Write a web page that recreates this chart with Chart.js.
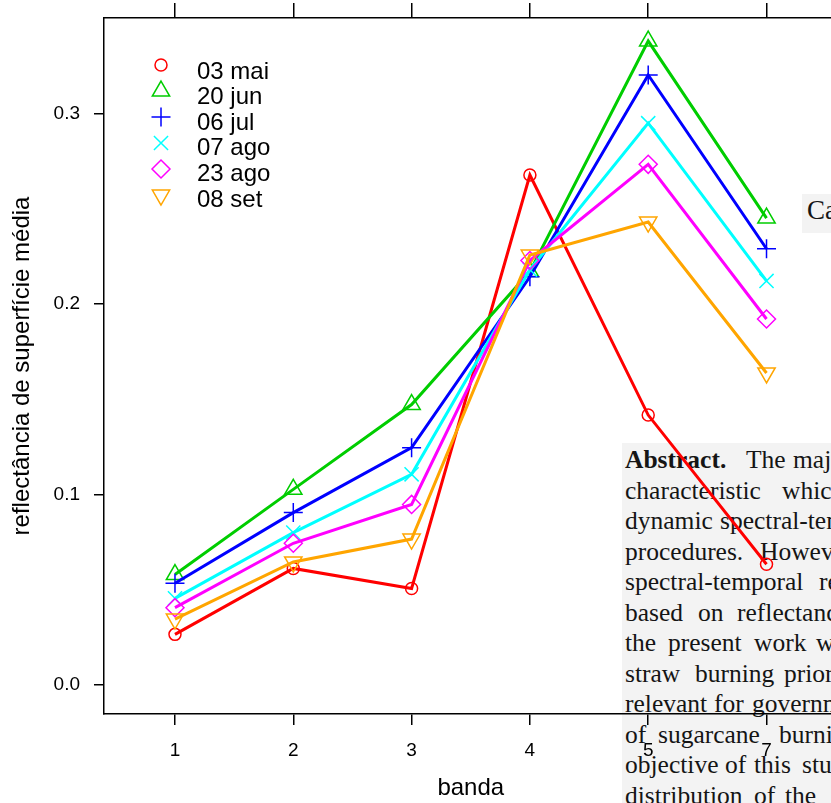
<!DOCTYPE html>
<html>
<head>
<meta charset="utf-8">
<title>reflectância por banda</title>
<script src="https://cdn.jsdelivr.net/npm/chart.js@4.4.1/dist/chart.umd.min.js"></script>
<style>
body{margin:0;background:#fff;overflow:hidden;}
#page{position:relative;width:831px;height:803px;overflow:hidden;}
.snip{position:absolute;background:#f3f3f3;font-family:"Liberation Serif","Times New Roman",serif;color:#151515;}
.snip span{position:absolute;white-space:nowrap;line-height:25px;font-size:25.5px;}
#chart{position:absolute;left:0;top:0;}
</style>
</head>
<body>
<div id="page">
<div class="snip" id="snipCa" style="left:802px;top:194px;width:60px;height:39px;"></div>
<div class="snip" id="snipAbs" style="left:622px;top:443px;width:260px;height:400px;"></div>
<canvas id="chart" width="849" height="803"></canvas>
</div>
<script>

// bandas e datas
const bandLabels = ["1","2","3","4","5","7"];
const dates = ["03 mai","20 jun","06 jul","07 ago","23 ago","08 set"];

// reflectância média por banda
const mai03 = [0.0266,0.0612,0.0507,0.2677,0.1417,0.0634];
const jun20 = [0.0580,0.1027,0.1472,0.2170,0.3380,0.2451];
const jul06 = [0.0534,0.0905,0.1246,0.2143,0.3202,0.2290];
const ago07 = [0.0455,0.0800,0.1106,0.2180,0.2949,0.2121];
const ago23 = [0.0406,0.0744,0.0948,0.2228,0.2733,0.1921];
const set08 = [0.0346,0.0646,0.0766,0.2257,0.2430,0.1638];

const yTicks = [0,0.1,0.2,0.3];

const series = [mai03,jun20,jul06,ago07,ago23,set08];
const colors = ["#ff0000","#00cd00","#0000ff","#00ffff","#ff00ff","#ffa500"];
const styles = ["circle","triangle","cross","crossRot","rectRot","triangle"];
const rotations = [0,0,0,0,0,180];
const radii = [6,10,9.5,10,9,10];

// texto do artigo ao fundo
const caText = "Ca";
const abstractLines = [
  [[625,"Abstract.",true],[746,"The"],[793,"major"]],
  [[625,"characteristic"],[782,"which"]],
  [[625,"dynamic"],[720,"spectral-temporal"]],
  [[625,"procedures."],[760,"However,"]],
  [[625,"spectral-temporal"],[819,"response"]],
  [[625,"based"],[698,"on"],[737,"reflectance"]],
  [[625,"the"],[668,"present"],[754,"work"],[816,"was"]],
  [[625,"straw"],[695,"burning"],[784,"prior"]],
  [[625,"relevant"],[714,"for"],[752,"government"]],
  [[625,"of"],[658,"sugarcane"],[779,"burning"]],
  [[625,"objective"],[725,"of"],[754,"this"],[802,"study"]],
  [[625,"distribution"],[754,"of"],[785,"the"]]
];

const abs = document.getElementById("snipAbs");
abstractLines.forEach((line,i)=>{
  const base = 468 + i*30.5;
  line.forEach(w=>{
    const s = document.createElement("span");
    s.textContent = w[1];
    if(w[2]) s.style.fontWeight = "bold";
    s.style.left = (w[0]-622)+"px";
    s.style.top = (base-21-443)+"px";
    abs.appendChild(s);
  });
});
const ca = document.createElement("span");
ca.textContent = caText;
ca.style.fontSize = "27px";
ca.style.lineHeight = "27px";
ca.style.left = "5px";
ca.style.top = (220-22.6-194)+"px";
document.getElementById("snipCa").appendChild(ca);

const datasets = series.map((vals,i)=>({
  label: dates[i],
  data: vals.map((v,j)=>({x:j,y:v})),
  borderColor: colors[i],
  borderWidth: 3,
  pointStyle: styles[i],
  pointRotation: rotations[i],
  pointRadius: radii[i],
  pointBorderColor: colors[i],
  pointBackgroundColor: "rgba(0,0,0,0)",
  pointBorderWidth: 1.5,
  tension: 0,
  order: series.length - 1 - i
}));

// legenda dentro do painel
const keyPlugin = {
  id: "key",
  afterDraw(chart){
    const ctx = chart.ctx;
    ctx.save();
    dates.forEach((d,i)=>{
      ctx.strokeStyle = colors[i];
      ctx.fillStyle = "rgba(0,0,0,0)";
      ctx.lineWidth = 1.5;
      Chart.helpers.drawPoint(ctx,{pointStyle:styles[i],rotation:rotations[i],radius:radii[i],borderWidth:1.5},161,65+i*26);
      ctx.fillStyle = "#000";
      ctx.font = "24px 'Liberation Sans', Arial, sans-serif";
      ctx.textBaseline = "alphabetic";
      ctx.fillText(d,197,78.5+i*25.65);
    });
    ctx.restore();
  }
};

const sans = "'Liberation Sans', Arial, sans-serif";
const axisLine = {display:true,color:"#000",width:1.5};

// fixed box sizes, no extra label padding
function fixBox(size){
  return function(s){
    if(s.isHorizontal()) s.height = size; else s.width = size;
    s.paddingTop = 0; s.paddingBottom = 0; s.paddingLeft = 0; s.paddingRight = 0;
  };
}
const bandTicks = (s)=>{ s.ticks = bandLabels.map((b,j)=>({value:j})); };

new Chart(document.getElementById("chart"),{
  type:"line",
  data:{datasets:datasets},
  options:{
    responsive:false,
    animation:false,
    devicePixelRatio:1,
    layout:{padding:0},
    plugins:{legend:{display:false},tooltip:{enabled:false}},
    scales:{
      x:{
        type:"linear",
        position:"bottom",
        bounds:"data",
        min:-0.6,max:5.6,
        afterBuildTicks: bandTicks,
        afterFit: fixBox(89),
        border:axisLine,
        grid:{drawOnChartArea:false,drawTicks:true,tickLength:11,color:"#000",lineWidth:1.5},
        ticks:{color:"#000",font:{family:sans,size:19},padding:14,maxRotation:0,
          callback:(v)=>bandLabels[v]},
        title:{display:true,text:"banda",color:"#000",font:{family:sans,size:24},padding:0}
      },
      xTop:{
        type:"linear",
        axis:"x",
        position:"top",
        bounds:"data",
        min:-0.6,max:5.6,
        afterBuildTicks: bandTicks,
        afterFit: fixBox(18),
        border:axisLine,
        grid:{drawOnChartArea:false,drawTicks:true,tickLength:15,color:"#000",lineWidth:1.5},
        ticks:{display:false}
      },
      y:{
        type:"linear",
        bounds:"data",
        min:-0.0152,max:0.3501,
        afterBuildTicks(s){ s.ticks = yTicks.map(v=>({value:v})); },
        afterFit: fixBox(104),
        border:axisLine,
        grid:{drawOnChartArea:false,drawTicks:true,tickLength:10,color:"#000",lineWidth:1.5},
        ticks:{color:"#000",font:{family:sans,size:19},padding:14,callback:(v)=>v.toFixed(1)},
        title:{display:true,text:"reflectância de superfície média",color:"#000",font:{family:sans,size:24},padding:{top:8,bottom:0}}
      }
    }
  },
  plugins:[keyPlugin]
});
</script>
</body>
</html>
